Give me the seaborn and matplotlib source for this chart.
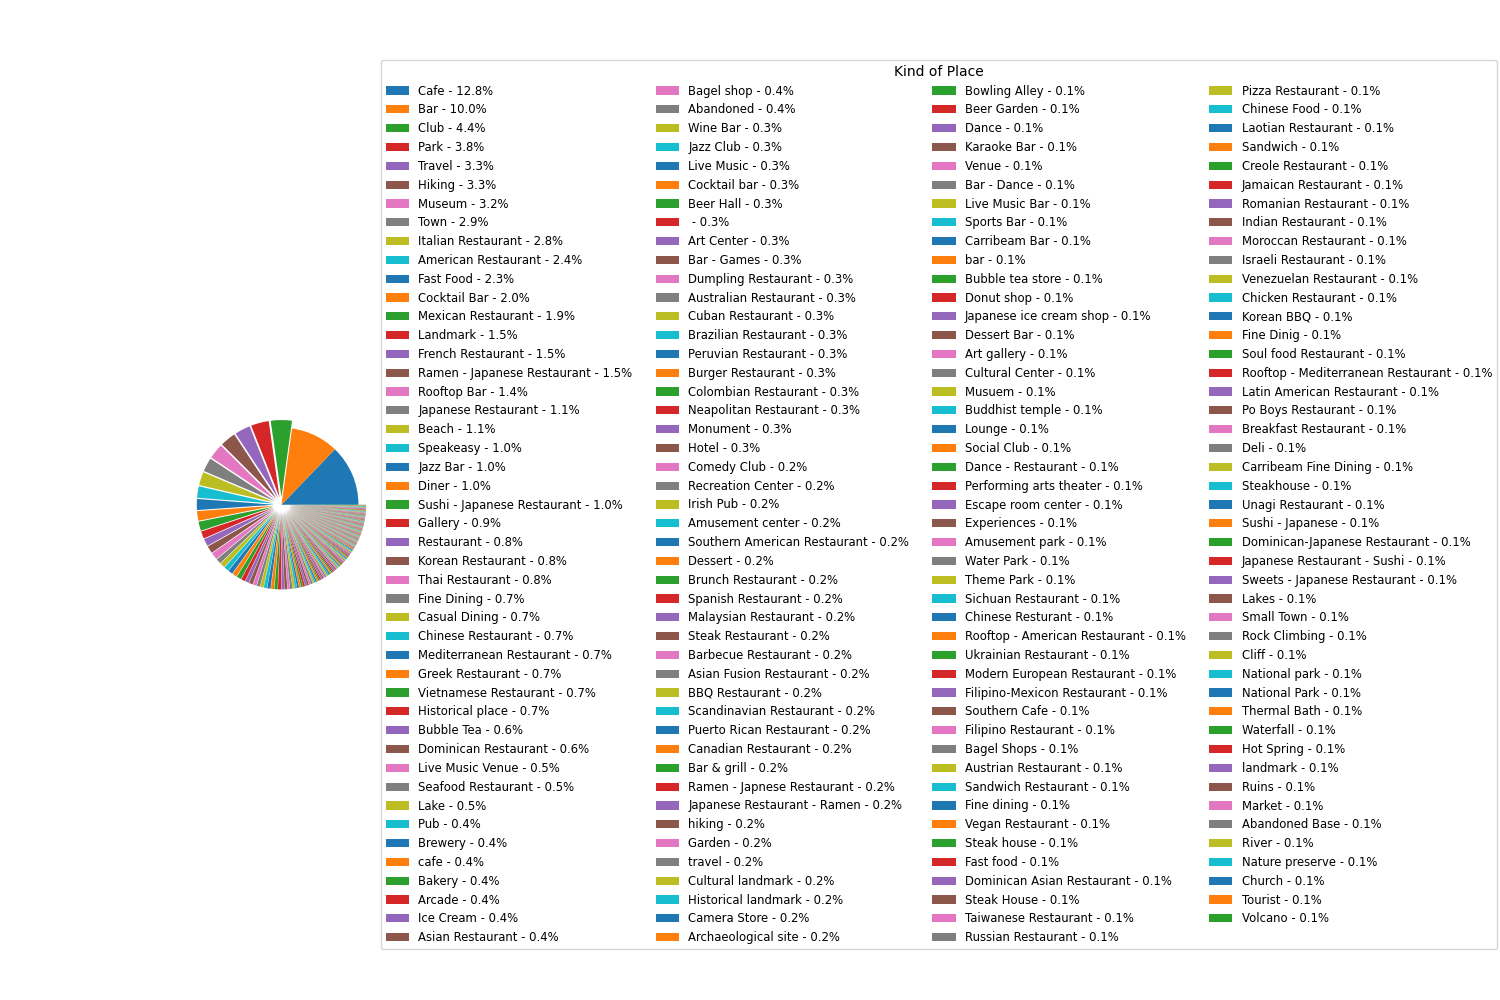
import seaborn as sns
import matplotlib.pyplot as plt

places = [
    "Cafe", "Bar", "Club", "Park", "Travel", "Hiking", "Museum", "Town",
    "Italian Restaurant", "American Restaurant", "Fast Food", "Cocktail Bar",
    "Mexican Restaurant", "Landmark", "French Restaurant",
    "Ramen - Japanese Restaurant", "Rooftop Bar", "Japanese Restaurant", "Beach",
    "Speakeasy", "Jazz Bar", "Diner", "Sushi - Japanese Restaurant", "Gallery",
    "Restaurant", "Korean Restaurant", "Thai Restaurant", "Fine Dining",
    "Casual Dining", "Chinese Restaurant", "Mediterranean Restaurant",
    "Greek Restaurant", "Vietnamese Restaurant", "Historical place", "Bubble Tea",
    "Dominican Restaurant", "Live Music Venue", "Seafood Restaurant", "Lake", "Pub",
    "Brewery", "cafe", "Bakery", "Arcade", "Ice Cream", "Asian Restaurant",
    # col 2
    "Bagel shop", "Abandoned", "Wine Bar", "Jazz Club", "Live Music", "Cocktail bar",
    "Beer Hall", "", "Art Center", "Bar - Games", "Dumpling Restaurant",
    "Australian Restaurant", "Cuban Restaurant", "Brazilian Restaurant",
    "Peruvian Restaurant", "Burger Restaurant", "Colombian Restaurant",
    "Neapolitan Restaurant", "Monument", "Hotel", "Comedy Club", "Recreation Center",
    "Irish Pub", "Amusement center", "Southern American Restaurant", "Dessert",
    "Brunch Restaurant", "Spanish Restaurant", "Malaysian Restaurant",
    "Steak Restaurant", "Barbecue Restaurant", "Asian Fusion Restaurant",
    "BBQ Restaurant", "Scandinavian Restaurant", "Puerto Rican Restaurant",
    "Canadian Restaurant", "Bar & grill", "Ramen - Japnese Restaurant",
    "Japanese Restaurant - Ramen", "hiking", "Garden", "travel", "Cultural landmark",
    "Historical landmark", "Camera Store", "Archaeological site",
    # col 3
    "Bowling Alley", "Beer Garden", "Dance", "Karaoke Bar", "Venue", "Bar - Dance",
    "Live Music Bar", "Sports Bar", "Carribeam Bar", "bar", "Bubble tea store",
    "Donut shop", "Japanese ice cream shop", "Dessert Bar", "Art gallery",
    "Cultural Center", "Musuem", "Buddhist temple", "Lounge", "Social Club",
    "Dance - Restaurant", "Performing arts theater", "Escape room center",
    "Experiences", "Amusement park", "Water Park", "Theme Park", "Sichuan Restaurant",
    "Chinese Resturant", "Rooftop - American Restaurant", "Ukrainian Restaurant",
    "Modern European Restaurant", "Filipino-Mexicon Restaurant", "Southern Cafe",
    "Filipino Restaurant", "Bagel Shops", "Austrian Restaurant",
    "Sandwich Restaurant", "Fine dining", "Vegan Restaurant", "Steak house",
    "Fast food", "Dominican Asian Restaurant", "Steak House", "Taiwanese Restaurant",
    "Russian Restaurant",
    # col 4
    "Pizza Restaurant", "Chinese Food", "Laotian Restaurant", "Sandwich",
    "Creole Restaurant", "Jamaican Restaurant", "Romanian Restaurant",
    "Indian Restaurant", "Moroccan Restaurant", "Israeli Restaurant",
    "Venezuelan Restaurant", "Chicken Restaurant", "Korean BBQ", "Fine Dinig",
    "Soul food Restaurant", "Rooftop - Mediterranean Restaurant",
    "Latin American Restaurant", "Po Boys Restaurant", "Breakfast Restaurant", "Deli",
    "Carribeam Fine Dining", "Steakhouse", "Unagi Restaurant", "Sushi - Japanese",
    "Dominican-Japanese Restaurant", "Japanese Restaurant - Sushi",
    "Sweets - Japanese Restaurant", "Lakes", "Small Town", "Rock Climbing", "Cliff",
    "National park", "National Park", "Thermal Bath", "Waterfall", "Hot Spring",
    "landmark", "Ruins", "Market", "Abandoned Base", "River", "Nature preserve",
    "Church", "Tourist", "Volcano",
]

# counts estimated from the percentages in the legend
counts = (
    [133, 104, 46, 39, 34, 34, 33, 30, 29, 25, 24, 21, 20, 16, 16, 16, 15,
     11, 11, 10, 10, 10, 10, 9, 8, 8, 8, 7, 7, 7, 7, 7, 7, 7, 6, 6, 5, 5, 5]
    + [4] * 9
    + [3] * 18
    + [2] * 26
    + [1] * 91
)

total = sum(counts)
pcts = [c / total * 100 for c in counts]
labels = [f"{p} - {v:.1f}%" for p, v in zip(places, pcts)]
# pull out the smaller slices
explode = [0.1 if v < 5 else 0 for v in pcts]

colors = sns.color_palette("tab10", 10)

fig = plt.figure(figsize=(15, 10), dpi=100)
ax = fig.add_axes([0.1235, 0.399, 0.1283, 0.1925])
wedges, _ = ax.pie(counts, colors=colors, explode=explode)
fig.legend(wedges, labels, title="Kind of Place", loc="center left",
           bbox_to_anchor=(0.254, 0.4955), borderaxespad=0, ncol=4,
           fontsize=8.37)
plt.savefig("out.png")
